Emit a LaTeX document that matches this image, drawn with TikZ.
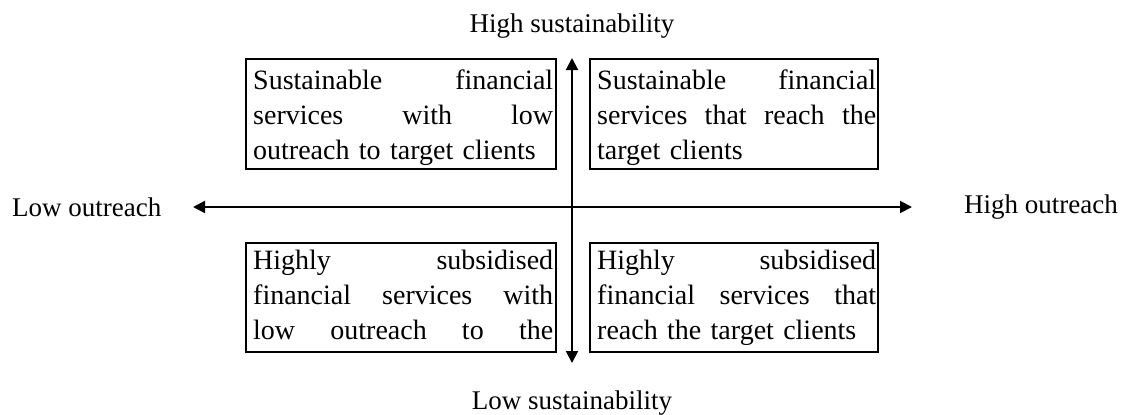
\documentclass[tikz,border=0pt]{standalone}
\usepackage{fontspec}
\setmainfont{Liberation Serif}
\usetikzlibrary{arrows.meta,calc}
\begin{document}
\begin{tikzpicture}[x=1pt,y=-1pt,
  quad/.style={draw, line width=2pt, anchor=north west, inner sep=0pt},
  quadtext/.style={anchor=north west, inner sep=0pt, align=left,
    font=\fontsize{28}{35}\selectfont},
  axislabel/.style={inner sep=0pt, font=\fontsize{27}{34}\selectfont},
  tip/.style={Triangle[length=12pt,width=12pt]},
  axis/.style={line width=2pt, {Triangle[length=12pt,width=12pt]}-{Triangle[length=12pt,width=12pt]}}]
\useasboundingbox (0,0) rectangle (1122,415);

% axis end points
\coordinate (up) at (572,58);
\coordinate (down) at (572,363);
\coordinate (left) at (193,207);
\coordinate (right) at (912,207);

% axis labels
\node[axislabel] (hs) at (572,26) {High sustainability};
\node[axislabel] (ls) at (572,403) {Low sustainability};
\node[axislabel, anchor=west] (lo) at (12,207) {Low outreach};
\node[axislabel, anchor=east] (ho) at (1118,207) {High outreach};

% the four quadrant boxes
\node[quad, minimum width=310, minimum height=110] (tl) at (245,58) {};
\node[quad, minimum width=288, minimum height=110] (tr) at (589,58) {};
\node[quad, minimum width=310, minimum height=109] (bl) at (245,242) {};
\node[quad, minimum width=288, minimum height=109] (br) at (589,242) {};

\node[quadtext, text width=300] (tlt) at ($(tl.north west)+(8,12)$)
  {Sustainable\hfill financial\\
   services\hfill with\hfill low\\
   outreach to target clients};
\node[quadtext, text width=279] (trt) at ($(tr.north west)+(8,12)$)
  {Sustainable\hfill financial\\
   services\hfill that\hfill reach\hfill the\\
   target clients};
\node[quadtext, text width=300] (blt) at ($(bl.north west)+(8,8)$)
  {Highly\hfill subsidised\\
   financial\hfill services\hfill with\\
   low\hfill outreach\hfill to\hfill the};
\node[quadtext, text width=279] (brt) at ($(br.north west)+(8,8)$)
  {Highly\hfill subsidised\\
   financial\hfill services\hfill that\\
   reach the target clients};

% axes
\draw[axis] (down) -- (up);
\draw[axis] (left) -- (right);
\end{tikzpicture}
\end{document}
